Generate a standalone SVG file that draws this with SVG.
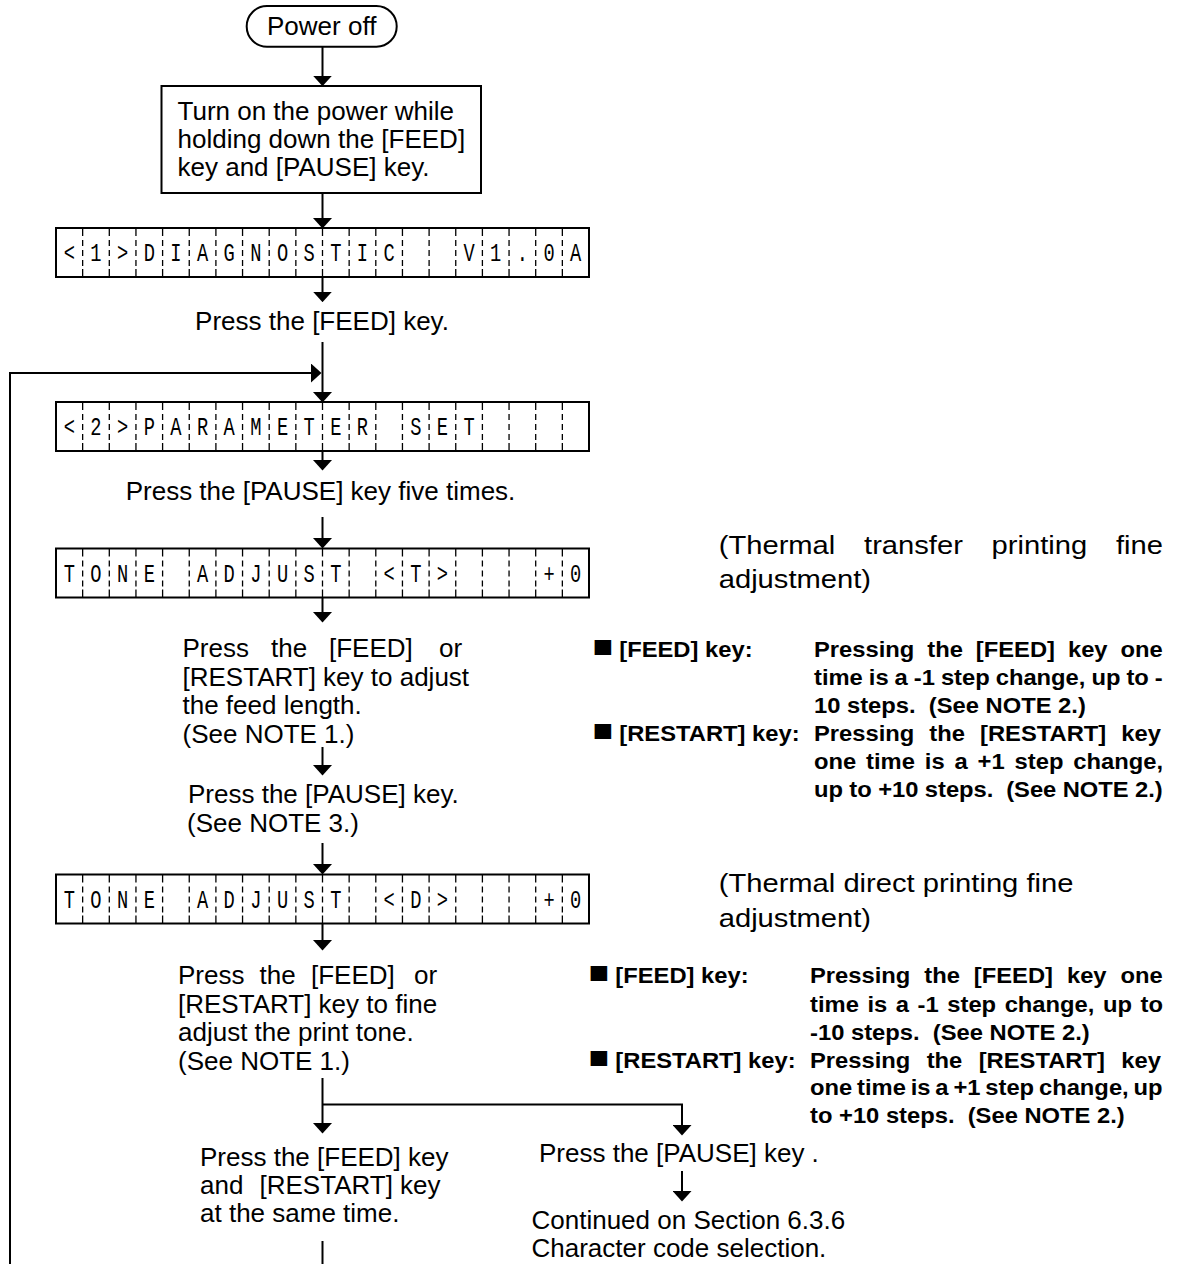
<svg xmlns="http://www.w3.org/2000/svg" xmlns:xlink="http://www.w3.org/1999/xlink" width="1182" height="1264" viewBox="0 0 1182 1264">
<style>
.t{font-family:"Liberation Sans",Arial,sans-serif;font-size:26px;fill:#000}
.h{font-family:"Liberation Sans",Arial,sans-serif;font-size:26.5px;fill:#000}
.b{font-family:"Liberation Sans",Arial,sans-serif;font-size:21.6px;font-weight:bold;fill:#000}
.sq{font-size:31px}
.lcd{font-family:"Liberation Mono","Courier New",monospace;font-size:26px;fill:#000}
.box{fill:#fff;stroke:#000;stroke-width:2}
.div{fill:none;stroke:#000;stroke-width:1.3;stroke-dasharray:8 4 6 4 6 4 6 3 8}
.c{fill:none;stroke:#000;stroke-width:2}
</style>
<defs>
<marker id="ah" markerUnits="userSpaceOnUse" viewBox="0 0 10.5 19" markerWidth="10.5" markerHeight="19" refX="5" refY="9.5" orient="auto">
<path d="M0 0 L10.5 9.5 L0 19 Z" fill="#000"/>
</marker>
<g id="lcdframe">
<rect class="box" x="56" y="0" width="533" height="49"/>
<path class="div" d="M82.65 0v49M109.3 0v49M135.95 0v49M162.6 0v49M189.25 0v49M215.9 0v49M242.55 0v49M269.2 0v49M295.85 0v49M322.5 0v49M349.15 0v49M375.8 0v49M402.45 0v49M429.1 0v49M455.75 0v49M482.4 0v49M509.05 0v49M535.7 0v49M562.35 0v49"/>
</g>
</defs>
<rect x="0" y="0" width="1182" height="1264" fill="#fff"/>

<g id="connectors">
<path class="c" d="M322.5 46.7V80.7" marker-end="url(#ah)"/>
<path class="c" d="M322.5 193V223" marker-end="url(#ah)"/>
<path class="c" d="M322.5 277V296.7" marker-end="url(#ah)"/>
<path class="c" d="M322.5 342V397" marker-end="url(#ah)"/>
<path class="c" d="M10 1264V373H316" marker-end="url(#ah)"/>
<path class="c" d="M322.5 450V465" marker-end="url(#ah)"/>
<path class="c" d="M322.5 517V543" marker-end="url(#ah)"/>
<path class="c" d="M322.5 598V617" marker-end="url(#ah)"/>
<path class="c" d="M322.5 747V770" marker-end="url(#ah)"/>
<path class="c" d="M322.5 843V869" marker-end="url(#ah)"/>
<path class="c" d="M322.5 924V945" marker-end="url(#ah)"/>
<path class="c" d="M322.5 1078V1128" marker-end="url(#ah)"/>
<path class="c" d="M322.5 1104.5H682V1130" marker-end="url(#ah)"/>
<path class="c" d="M682 1171V1196" marker-end="url(#ah)"/>
<path class="c" d="M322.5 1241V1264"/>
</g>

<g id="power-off">
<rect x="246.7" y="6" width="150" height="40.7" rx="20.3" ry="20.3" class="box"/>
<text class="t" x="321.7" y="35" text-anchor="middle">Power off</text>
</g>

<g id="turn-on">
<rect x="161.5" y="86" width="319.5" height="107" class="box"/>
<text class="t" x="177.5" y="119.5">Turn on the power while</text>
<text class="t" x="177.5" y="148">holding down the [FEED]</text>
<text class="t" x="177.5" y="176">key and [PAUSE] key.</text>
</g>

<g id="lcd-diagnostic">
<use xlink:href="#lcdframe" href="#lcdframe" y="228"/>
<text class="lcd" transform="scale(0.72 1)" y="261.5" text-anchor="middle" x="96.28 133.29 170.31 207.32 244.34 281.35 318.36 355.38 392.39 429.41 466.42 503.43 540.45 651.49 688.50 725.52 762.53 799.55">&lt;1&gt;DIAGNOSTICV1.0A</text>
</g>

<g id="press-feed">
<text class="t" x="322" y="330" text-anchor="middle">Press the [FEED] key.</text>
</g>

<g id="lcd-parameter">
<use xlink:href="#lcdframe" href="#lcdframe" y="402"/>
<text class="lcd" transform="scale(0.72 1)" y="435.5" text-anchor="middle" x="96.28 133.29 170.31 207.32 244.34 281.35 318.36 355.38 392.39 429.41 466.42 503.43 577.46 614.48 651.49">&lt;2&gt;PARAMETERSET</text>
</g>

<g id="press-pause-five">
<text class="t" x="320.5" y="500" text-anchor="middle">Press the [PAUSE] key five times.</text>
</g>

<g id="lcd-tone-t">
<use xlink:href="#lcdframe" href="#lcdframe" y="548.5"/>
<text class="lcd" transform="scale(0.72 1)" y="582" text-anchor="middle" x="96.28 133.29 170.31 207.32 281.35 318.36 355.38 392.39 429.41 466.42 540.45 577.46 614.48 762.53 799.55">TONEADJUST&lt;T&gt;+0</text>
</g>

<g id="adjust-feed">
<text class="t" y="657"><tspan x="182.5">Press</tspan><tspan x="271">the</tspan><tspan x="329">[FEED]</tspan><tspan x="439">or</tspan></text>
<text class="t" x="182.5" y="685.5">[RESTART] key to adjust</text>
<text class="t" x="182.5" y="714">the feed length.</text>
<text class="t" x="182.5" y="742.5">(See NOTE 1.)</text>
</g>

<g id="press-pause-note3">
<text class="t" x="188" y="803">Press the [PAUSE] key.</text>
<text class="t" x="187" y="832">(See NOTE 3.)</text>
</g>

<g id="lcd-tone-d">
<use xlink:href="#lcdframe" href="#lcdframe" y="874.5"/>
<text class="lcd" transform="scale(0.72 1)" y="908" text-anchor="middle" x="96.28 133.29 170.31 207.32 281.35 318.36 355.38 392.39 429.41 466.42 540.45 577.46 614.48 762.53 799.55">TONEADJUST&lt;D&gt;+0</text>
</g>

<g id="adjust-tone">
<text class="t" y="984"><tspan x="178">Press</tspan><tspan x="259.5">the</tspan><tspan x="311">[FEED]</tspan><tspan x="414">or</tspan></text>
<text class="t" x="178" y="1012.5">[RESTART] key to fine</text>
<text class="t" x="178" y="1041">adjust the print tone.</text>
<text class="t" x="178" y="1069.5">(See NOTE 1.)</text>
</g>

<g id="press-feed-restart">
<text class="t" x="200" y="1165.5">Press the [FEED] key</text>
<text class="t" y="1194"><tspan x="200">and</tspan><tspan x="259.5">[RESTART] key</tspan></text>
<text class="t" x="200" y="1222">at the same time.</text>
</g>

<g id="press-pause-final">
<text class="t" x="539" y="1162">Press the [PAUSE] key .</text>
</g>

<g id="continued">
<text class="t" x="531.5" y="1229">Continued on Section 6.3.6</text>
<text class="t" x="531.5" y="1257">Character code selection.</text>
</g>

<g id="note-transfer" transform="scale(1.1 1)">
<text class="h" x="653.4" y="554" word-spacing="18.8">(Thermal transfer printing fine</text>
<text class="h" x="653.4" y="588">adjustment)</text>
<text class="b" y="657.5"><tspan class="sq" x="538.7">■</tspan><tspan x="563">[FEED] key:</tspan></text>
<text class="b" x="740" y="657" word-spacing="5.8">Pressing the [FEED] key one</text>
<text class="b" x="740" y="685" word-spacing="-0.55">time is a -1 step change, up to -</text>
<text class="b" x="740" y="713.3" xml:space="preserve">10 steps.  (See NOTE 2.)</text>
<text class="b" y="741.5"><tspan class="sq" x="538.7">■</tspan><tspan x="563">[RESTART] key:</tspan></text>
<text class="b" x="740" y="741.5" word-spacing="7.7">Pressing the [RESTART] key</text>
<text class="b" x="740" y="769.5" word-spacing="3">one time is a +1 step change,</text>
<text class="b" x="740" y="797" xml:space="preserve" word-spacing="-0.2">up to +10 steps.  (See NOTE 2.)</text>
</g>

<g id="note-direct" transform="scale(1.1 1)">
<text class="h" x="653.4" y="892">(Thermal direct printing fine</text>
<text class="h" x="653.4" y="927">adjustment)</text>
<text class="b" y="983.3"><tspan class="sq" x="535.1">■</tspan><tspan x="559.4">[FEED] key:</tspan></text>
<text class="b" x="736.4" y="983.3" word-spacing="6.7">Pressing the [FEED] key one</text>
<text class="b" x="736.4" y="1011.7" word-spacing="1.8">time is a -1 step change, up to</text>
<text class="b" x="736.4" y="1040" xml:space="preserve">-10 steps.  (See NOTE 2.)</text>
<text class="b" y="1068.3"><tspan class="sq" x="535.1">■</tspan><tspan x="559.4">[RESTART] key:</tspan></text>
<text class="b" x="736.4" y="1068.3" word-spacing="8.9">Pressing the [RESTART] key</text>
<text class="b" x="736.4" y="1095.5" word-spacing="-1.6">one time is a +1 step change, up</text>
<text class="b" x="736.4" y="1123.5" xml:space="preserve">to +10 steps.  (See NOTE 2.)</text>
</g>
</svg>
